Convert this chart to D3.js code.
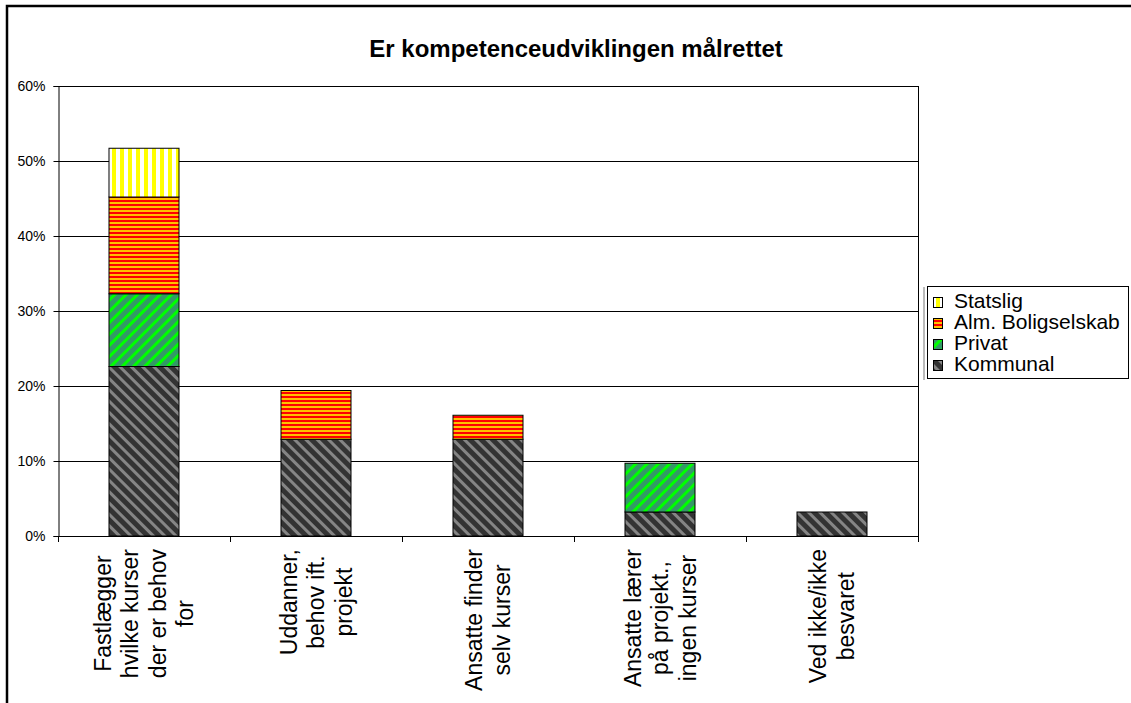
<!DOCTYPE html>
<html>
<head>
<meta charset="utf-8">
<script src="https://cdn.jsdelivr.net/npm/d3@7.9.0/dist/d3.min.js"></script>
<style>
  html, body { margin: 0; padding: 0; background: #fff; }
  svg { display: block; font-family: Arial, "Liberation Sans", sans-serif; }
</style>
</head>
<body>
<svg id="chart" width="1131" height="703"></svg>
<script>
// categories (each label split in lines as in the original)
const categoryLines = [
  ["Fastlægger", "hvilke kurser", "der er behov", "for"],
  ["Uddanner,", "behov ift.", "projekt"],
  ["Ansatte finder", "selv kurser"],
  ["Ansatte lærer", "på projekt.,", "ingen kurser"],
  ["Ved ikke/ikke", "besvaret"]
];
const categories = categoryLines.map(l => l.join(" "));

// series, bottom to top (percent)
const seriesNames = ["Kommunal", "Privat", "Alm. Boligselskab", "Statslig"];
const kommunal = [22.6, 12.9, 12.9, 3.2, 3.2];
const privat = [9.7, 0, 0, 6.5, 0];
const almBolig = [12.9, 6.5, 3.2, 0, 0];
const statslig = [6.5, 0, 0, 0, 0];

const yTicks = [0, 10, 20, 30, 40, 50, 60];

const svg = d3.select("#chart");
const margin = { left: 58, right: 918, top: 86, bottom: 536 };

// patterns for each series
const defs = svg.append("defs");
function stripes(id, size, bg, fg, w, rot) {
  const p = defs.append("pattern")
    .attr("id", id)
    .attr("patternUnits", "userSpaceOnUse")
    .attr("width", size).attr("height", size);
  if (rot) p.attr("patternTransform", `rotate(${rot})`);
  p.append("rect").attr("width", size).attr("height", size).attr("fill", bg);
  p.append("rect").attr("width", w).attr("height", size).attr("fill", fg);
  return p;
}
stripes("pKommunal", 8, "#333333", "#858585", 3, -45);
stripes("pPrivat", 8, "#339966", "#00ff00", 3, 45);
stripes("pStatslig", 8, "#ffffff", "#ffff00", 4, 0);
// horizontal stripes
const pa = defs.append("pattern").attr("id", "pAlm")
  .attr("patternUnits", "userSpaceOnUse").attr("width", 4).attr("height", 4);
pa.append("rect").attr("width", 4).attr("height", 4).attr("fill", "#ffc000");
pa.append("rect").attr("width", 4).attr("height", 2).attr("fill", "#ff0000");

const fills = {
  "Kommunal": "url(#pKommunal)",
  "Privat": "url(#pPrivat)",
  "Alm. Boligselskab": "url(#pAlm)",
  "Statslig": "url(#pStatslig)"
};

// outer chart border
svg.append("rect")
  .attr("x", 7).attr("y", 6).attr("width", 1140).attr("height", 720)
  .attr("fill", "none").attr("stroke", "#000").attr("stroke-width", 2.5);

// title
svg.append("text")
  .attr("x", 576).attr("y", 57)
  .attr("text-anchor", "middle")
  .attr("font-weight", "bold")
  .attr("font-size", 24)
  .text("Er kompetenceudviklingen målrettet");

// scales
const x = d3.scaleBand().domain(categories).range([margin.left, margin.right]).padding(0);
const y = d3.scaleLinear().domain([0, 60]).range([margin.bottom, margin.top]);

// gridlines
svg.append("g")
  .selectAll("line")
  .data(yTicks.filter(d => d > 0))
  .join("line")
  .attr("x1", margin.left).attr("x2", margin.right)
  .attr("y1", d => Math.round(y(d)) + 0.5).attr("y2", d => Math.round(y(d)) + 0.5)
  .attr("stroke", "#000").attr("stroke-width", 1);

// right border of plot area
svg.append("line")
  .attr("x1", margin.right + 0.5).attr("x2", margin.right + 0.5)
  .attr("y1", margin.top).attr("y2", margin.bottom)
  .attr("stroke", "#000");

// stacked bars
const rows = categories.map((c, i) => ({
  cat: c,
  "Kommunal": kommunal[i],
  "Privat": privat[i],
  "Alm. Boligselskab": almBolig[i],
  "Statslig": statslig[i]
}));
const stacked = d3.stack().keys(seriesNames)(rows);
const barW = x.bandwidth() * 0.407;

svg.append("g")
  .selectAll("g")
  .data(stacked)
  .join("g")
  .attr("fill", d => fills[d.key])
  .selectAll("rect")
  .data(d => d.filter(s => s[1] - s[0] > 0))
  .join("rect")
  .attr("x", d => x(d.data.cat) + x.bandwidth() / 2 - barW / 2)
  .attr("y", d => y(d[1]))
  .attr("width", barW)
  .attr("height", d => y(d[0]) - y(d[1]))
  .attr("stroke", "#000").attr("stroke-width", 1);

// y axis
const yAxis = svg.append("g")
  .attr("transform", `translate(${margin.left + 0.5},0)`)
  .call(d3.axisLeft(y).tickValues(yTicks).tickSize(5).tickPadding(8).tickFormat(d => d + "%"));
yAxis.selectAll("text").attr("font-size", 14).attr("fill", "#000").attr("font-family", null);
yAxis.selectAll("line, path").attr("stroke", "#000");

// x axis line + boundary ticks
svg.append("line")
  .attr("x1", margin.left).attr("x2", margin.right + 1)
  .attr("y1", margin.bottom + 0.5).attr("y2", margin.bottom + 0.5)
  .attr("stroke", "#000");
svg.append("g")
  .selectAll("line")
  .data(categories.map(c => x(c)).concat([x.range()[1]]))
  .join("line")
  .attr("x1", d => Math.round(d) + 0.5).attr("x2", d => Math.round(d) + 0.5)
  .attr("y1", margin.bottom).attr("y2", margin.bottom + 6)
  .attr("stroke", "#000");

// rotated, multi-line category labels
const lineGap = 27.5;
categoryLines.forEach((lines, i) => {
  const cx = x(categories[i]) + x.bandwidth() / 2;
  const g = svg.append("g")
    .attr("transform", `translate(${cx},${margin.bottom + 13}) rotate(-90)`);
  const texts = lines.map((ln, j) =>
    g.append("text")
      .attr("font-size", 23)
      .attr("text-anchor", "middle")
      .attr("y", (j - (lines.length - 1) / 2) * lineGap)
      .attr("dy", "0.35em")
      .text(ln));
  const maxW = d3.max(texts, t => t.node().getComputedTextLength());
  texts.forEach(t => t.attr("x", -maxW / 2));
});

// legend
const legend = svg.append("g");
legend.append("line")
  .attr("x1", 924).attr("x2", 924).attr("y1", 287).attr("y2", 380)
  .attr("stroke", "#bbb").attr("stroke-width", 2);
legend.append("rect")
  .attr("x", 927.5).attr("y", 286.5).attr("width", 201).attr("height", 92)
  .attr("fill", "#fff").attr("stroke", "#000");
const legendOrder = seriesNames.slice().reverse();
legendOrder.forEach((name, i) => {
  const yy = 308 + i * 21;
  legend.append("rect")
    .attr("x", 933.5).attr("y", yy - 10.5).attr("width", 9).attr("height", 10)
    .attr("fill", fills[name]).attr("stroke", "#000");
  legend.append("text")
    .attr("x", 954).attr("y", yy)
    .attr("font-size", 21)
    .text(name);
});
</script>
</body>
</html>
